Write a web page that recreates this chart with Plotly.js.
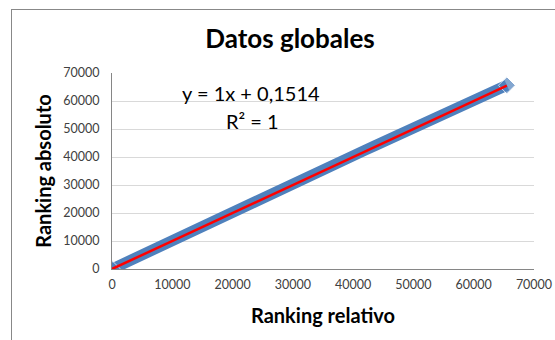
<!DOCTYPE html>
<html>
<head>
<meta charset="utf-8">
<script src="https://cdn.plot.ly/plotly-3.0.1.min.js"></script>
<style>
html,body{margin:0;padding:0;background:#fff;overflow:hidden;width:555px;height:340px;}
#frame{position:absolute;left:11px;top:9px;width:600px;height:400px;border-left:1px solid #888;border-top:1px solid #888;}
#chart{position:absolute;left:0;top:0;width:555px;height:340px;}
</style>
</head>
<body>
<div id="frame"></div>
<div id="chart"></div>
<script>
// Data (ranking relativo vs ranking absoluto)
const rankingRelativo = [0, 1500, 3000, 4500, 6000, 7500, 9000, 10500, 12000, 13500, 15000, 16500, 18000, 19500, 21000, 22500, 24000, 25500, 27000, 28500, 30000, 31500, 33000, 34500, 36000, 37500, 39000, 40500, 42000, 43500, 45000, 46500, 48000, 49500, 51000, 52500, 54000, 55500, 57000, 58500, 60000, 61500, 63000, 64500, 65500];
const rankingAbsoluto = [0, 1550, 3150, 4650, 6200, 7700, 9200, 10800, 12350, 13800, 15300, 16750, 18250, 19800, 21350, 22950, 24500, 25700, 27200, 28750, 30250, 31750, 33200, 34750, 36300, 37800, 39300, 40900, 42450, 43900, 45350, 46950, 48500, 49900, 51250, 52700, 54200, 55700, 57150, 58650, 60150, 61650, 63150, 64650, 65600];
const trendX = [0, 65500];
const slope = 1;
const intercept = 0.1514;
const xTicks = [0, 10000, 20000, 30000, 40000, 50000, 60000, 70000];
const yTicks = [0, 10000, 20000, 30000, 40000, 50000, 60000, 70000];
const titleText = 'Datos globales';
const xTitle = 'Ranking relativo';
const yTitle = 'Ranking absoluto';
const eqText = 'y = 1x + 0,1514';
const r2Text = 'R² = 1';

const trendY = trendX.map(v => slope * v + intercept);
const markerSizes = rankingRelativo.map((v, i) => (i === 0 || i === rankingRelativo.length - 1) ? 13 : 0);

const FONT = 'Lato, "Open Sans", sans-serif';

const traces = [
  {
    x: rankingRelativo, y: rankingAbsoluto,
    type: 'scatter', mode: 'lines+markers',
    line: {color: '#4F81BD', width: 11},
    marker: {symbol: 'diamond', size: markerSizes, color: '#4F81BD'},
    hoverinfo: 'skip', showlegend: false
  },
  {
    x: trendX, y: trendY,
    type: 'scatter', mode: 'lines',
    line: {color: '#FF0000', width: 2.5},
    hoverinfo: 'skip', showlegend: false
  }
];

const layout = {
  width: 555, height: 340,
  margin: {l: 112, r: 21, t: 73, b: 71},
  paper_bgcolor: 'rgba(0,0,0,0)', plot_bgcolor: 'rgba(0,0,0,0)',
  font: {family: FONT, color: '#404040', size: 12},
  title: {
    text: titleText,
    font: {family: FONT, size: 26, color: '#000000', weight: 'bold'},
    x: 0.5225, xanchor: 'center', xref: 'container',
    y: 0.885, yanchor: 'middle', yref: 'container'
  },
  xaxis: {
    range: [0, 70000], tickvals: xTicks, ticktext: xTicks.map(String),
    showgrid: false, zeroline: false,
    showline: true, linecolor: '#868686', linewidth: 1,
    ticks: '', ticklabelstandoff: 4, tickfont: {family: FONT, size: 12.5, color: '#404040'},
    title: {text: xTitle, standoff: 17, font: {family: FONT, size: 20, color: '#000000', weight: 'bold'}}
  },
  yaxis: {
    range: [0, 70000], tickvals: yTicks, ticktext: yTicks.map(String),
    showgrid: true, gridcolor: '#D9D9D9', gridwidth: 1, zeroline: false,
    showline: true, linecolor: '#868686', linewidth: 1,
    ticks: '', ticklabelstandoff: 9, tickfont: {family: FONT, size: 12.5, color: '#404040'},
    title: {text: yTitle, standoff: 6, font: {family: FONT, size: 20, color: '#000000', weight: 'bold'}}
  },
  annotations: [
    {text: eqText, xref: 'paper', yref: 'paper', x: 0.33, y: 0.90, xanchor: 'center', yanchor: 'middle', showarrow: false, font: {family: FONT, size: 20, color: '#000000'}},
    {text: r2Text, xref: 'paper', yref: 'paper', x: 0.332, y: 0.753, xanchor: 'center', yanchor: 'middle', showarrow: false, font: {family: FONT, size: 20, color: '#000000'}}
  ]
};

Plotly.newPlot('chart', traces, layout, {staticPlot: true, displayModeBar: false});
</script>
</body>
</html>
